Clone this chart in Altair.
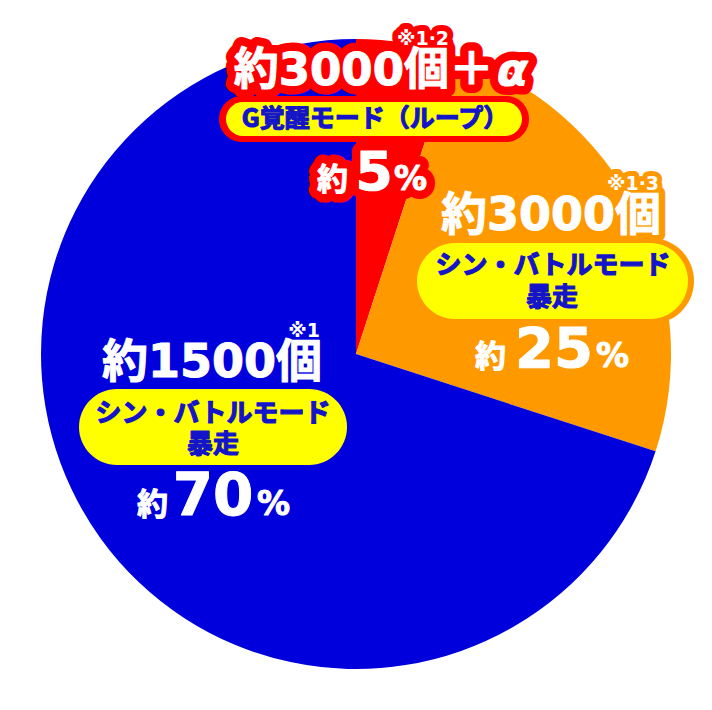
import altair as alt
import pandas as pd

# ---- data ----
categories = ["G覚醒モード（ループ）", "シン・バトルモード暴走 約3000個", "シン・バトルモード暴走 約1500個"]
shares = [5, 25, 70]
slice_colors = ["#FF0000", "#FF9900", "#0000DC"]

red_head = "約3000個＋"
red_alpha = "α"
red_note = "※1·2"
red_mode = "G覚醒モード（ループ）"
orange_head = "約3000個"
orange_note = "※1·3"
orange_mode = ["シン・バトルモード", "暴走"]
blue_head = "約1500個"
blue_note = "※1"
blue_mode = ["シン・バトルモード", "暴走"]
pct_prefix = "約"
pct_values = ["5", "25", "70"]
pct_suffix = "%"

# ---- styles ----
NUM_FONT = "DejaVu Sans, Noto Sans CJK JP, sans-serif"
JP_FONT = "Noto Sans CJK JP, sans-serif"
YELLOW = "#FFFF00"
PILL_TEXT = "#1414C8"
WHITE = "#FFFFFF"

pie_df = pd.DataFrame({"cat": categories, "value": shares, "idx": [0, 1, 2]})

pie = alt.Chart(pie_df).mark_arc(radius=315).encode(
    theta=alt.Theta("value:Q", stack=True),
    color=alt.Color("cat:N", scale=alt.Scale(domain=categories, range=slice_colors), legend=None),
    order=alt.Order("idx:Q"),
    x=alt.value(348),
    y=alt.value(346),
)

one = pd.DataFrame({"d": [0]})


def txt(s, x, y, size, color=WHITE, font=NUM_FONT, align="center", baseline="alphabetic",
        outline=None, ow=0, bold_px=1.0, style="normal"):
    df = pd.DataFrame({"t": [s]})
    out = []
    if outline:
        out.append(alt.Chart(df).mark_text(
            font=font, fontSize=size, fontWeight="bold", align=align, baseline=baseline,
            fontStyle=style, fill=outline, stroke=outline, strokeWidth=ow, strokeJoin="round",
        ).encode(x=alt.value(x), y=alt.value(y), text="t:N"))
    kw = dict(font=font, fontSize=size, fontWeight="bold", align=align, baseline=baseline,
              fontStyle=style, fill=color)
    if bold_px > 0:
        kw.update(stroke=color, strokeWidth=bold_px, strokeJoin="round")
    out.append(alt.Chart(df).mark_text(**kw).encode(x=alt.value(x), y=alt.value(y), text="t:N"))
    return out


def pill(x1, x2, y1, y2, color):
    r = (y2 - y1) / 2
    return alt.Chart(one).mark_rect(cornerRadius=r, fill=color).encode(
        x=alt.value(x1), x2=alt.value(x2), y=alt.value(y1), y2=alt.value(y2))


outlines = []
pills = []
texts = []


def add(parts):
    if len(parts) == 2:
        outlines.append(parts[0])
        texts.append(parts[1])
    else:
        texts.extend(parts)


# red slice labels
RED = slice_colors[0]
add(txt(red_head, 486, 77, 45, align="right", outline=RED, ow=18))
add(txt(red_alpha, 489, 77, 45, align="left", outline=RED, ow=18, style="italic"))
add(txt(red_note, 415, 37, 19, outline=RED, ow=12, bold_px=0))
add(txt(pct_prefix, 340, 182, 31, align="right", outline=RED, ow=18))
add(txt(pct_values[0], 366, 182, 54, outline=RED, ow=18))
add(txt(pct_suffix, 386, 182, 33, align="left", outline=RED, ow=18))
pills.append(pill(211, 521, 88, 134, RED))
pills.append(pill(218, 514, 94, 128, YELLOW))
add(txt(red_mode, 367, 111, 25, color=PILL_TEXT, font=JP_FONT, baseline="middle", bold_px=1.2))

# orange slice labels
ORANGE = slice_colors[1]
add(txt(orange_head, 543, 222, 46, outline=ORANGE, ow=14))
add(txt(orange_note, 625, 182, 19, outline=ORANGE, ow=10, bold_px=0))
pills.append(pill(404, 686, 230, 316, ORANGE))
pills.append(pill(409, 680, 235, 311, YELLOW))
add(txt(orange_mode[0], 545, 258, 26, color=PILL_TEXT, font=JP_FONT, baseline="middle", bold_px=1.2))
add(txt(orange_mode[1], 544, 290, 26, color=PILL_TEXT, font=JP_FONT, baseline="middle", bold_px=1.2))
add(txt(pct_prefix, 498, 359, 31, align="right"))
add(txt(pct_values[1], 546, 359, 56))
add(txt(pct_suffix, 588, 359, 33, align="left"))

# blue slice labels
add(txt(blue_head, 204, 369, 46))
add(txt(blue_note, 296, 329, 19, bold_px=0))
pills.append(pill(71, 339, 381, 457, YELLOW))
add(txt(blue_mode[0], 205, 406, 26, color=PILL_TEXT, font=JP_FONT, baseline="middle", bold_px=1.2))
add(txt(blue_mode[1], 205, 437, 26, color=PILL_TEXT, font=JP_FONT, baseline="middle", bold_px=1.2))
add(txt(pct_prefix, 160, 507, 31, align="right"))
add(txt(pct_values[2], 205, 507, 58))
add(txt(pct_suffix, 249, 507, 33, align="left"))

chart = alt.layer(pie, *outlines, *pills, *texts).properties(
    width=696, height=694, padding=0,
    autosize=alt.AutoSizeParams(type="none"),
).configure_view(strokeWidth=0)

chart.save("out.html", embed_options={"renderer": "svg", "actions": False})
